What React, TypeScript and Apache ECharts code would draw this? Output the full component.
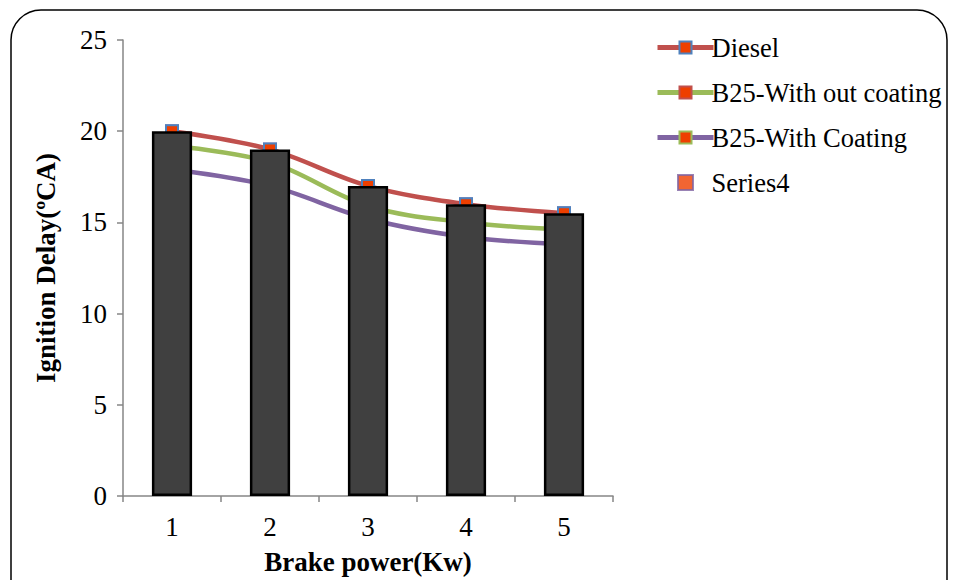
import React, { useEffect, useRef } from "react";
import * as echarts from "echarts";

const categories = ["1", "2", "3", "4", "5"];
const barValues = [20, 19, 17, 16, 15.5];
const diesel = [20, 19, 17, 16, 15.5];
const b25NoCoating = [19.2, 18.3, 15.9, 15.0, 14.6];
const b25Coating = [17.9, 17.0, 15.2, 14.2, 13.8];
const series4 = [20, 19, 17, 16, 15.5];
const yTicks = { min: 0, max: 25, interval: 5 };

const FONT = "'Liberation Serif', 'Times New Roman', serif";
const MARK_FILL = "#EE3F00";
const FS = 27;

export default function App() {
  const ref = useRef<HTMLDivElement>(null);
  useEffect(() => {
    if (!ref.current) return;
    const chart = echarts.init(ref.current, null, { renderer: "svg" });
    const lineSeries = (name: string, data: number[], color: string, border: string) => ({
      name,
      type: "line",
      data,
      smooth: 0.35,
      symbol: "rect",
      symbolSize: 12,
      z: 3,
      lineStyle: { color, width: 4.5 },
      itemStyle: { color: MARK_FILL, borderColor: border, borderWidth: 2 },
    });
    chart.setOption({
      animation: false,
      backgroundColor: "#fff",
      textStyle: { fontFamily: FONT, color: "#000" },
      graphic: [
        {
          type: "rect",
          shape: { x: 11, y: 10, width: 936, height: 620, r: 30 },
          style: { fill: "none", stroke: "#000", lineWidth: 1.5 },
          silent: true,
          z: 0,
        },
      ],
      grid: { left: 123, right: 345, top: 40, bottom: 84 },
      legend: {
        orient: "vertical",
        left: 650,
        top: 29,
        itemWidth: 56,
        itemHeight: 15,
        itemGap: 18,
        lineStyle: { width: 5 },
        data: [
          "Diesel",
          "B25-With out coating",
          "B25-With Coating",
          { name: "Series4", icon: "path://M0,0h10v10h-10z" },
        ],
        textStyle: { fontFamily: FONT, fontSize: 26.5, color: "#000", padding: [0, 0, 0, -7] },
      },
      xAxis: {
        type: "category",
        data: categories,
        name: "Brake power(Kw)",
        nameLocation: "middle",
        nameGap: 52,
        nameTextStyle: { fontFamily: FONT, fontSize: FS, fontWeight: "bold", color: "#000" },
        axisLine: { lineStyle: { color: "#868686", width: 1.5 } },
        axisTick: { show: true, length: 6, lineStyle: { color: "#868686", width: 1.5 } },
        axisLabel: { fontFamily: FONT, fontSize: FS, color: "#000", margin: 17 },
      },
      yAxis: {
        type: "value",
        min: yTicks.min,
        max: yTicks.max,
        interval: yTicks.interval,
        name: "Ignition Delay(ºCA)",
        nameLocation: "middle",
        nameGap: 64,
        nameTextStyle: { fontFamily: FONT, fontSize: FS, fontWeight: "bold", color: "#000" },
        splitLine: { show: false },
        axisLine: { show: true, lineStyle: { color: "#868686", width: 1.5 } },
        axisTick: { show: true, length: 6, lineStyle: { color: "#868686", width: 1.5 } },
        axisLabel: { fontFamily: FONT, fontSize: FS, color: "#000", margin: 16 },
      },
      series: [
        {
          name: "Series4",
          type: "scatter",
          data: series4,
          symbol: "rect",
          symbolSize: 12,
          z: 2,
          itemStyle: { color: MARK_FILL, borderColor: "#8064A2", borderWidth: 2 },
        },
        lineSeries("B25-With Coating", b25Coating, "#8064A2", "#9BBB59"),
        lineSeries("B25-With out coating", b25NoCoating, "#9BBB59", "#C0504D"),
        lineSeries("Diesel", diesel, "#C0504D", "#4F81BD"),
        {
          name: "Bars",
          type: "bar",
          data: barValues,
          barWidth: "41%",
          z: 5,
          itemStyle: { color: "#404040", borderColor: "#000", borderWidth: 2.5 },
        },
      ],
    });
    return () => chart.dispose();
  }, []);
  return (
    <div
      ref={ref}
      style={{ position: "fixed", left: 0, top: 0, width: 958, height: 580 }}
    />
  );
}
